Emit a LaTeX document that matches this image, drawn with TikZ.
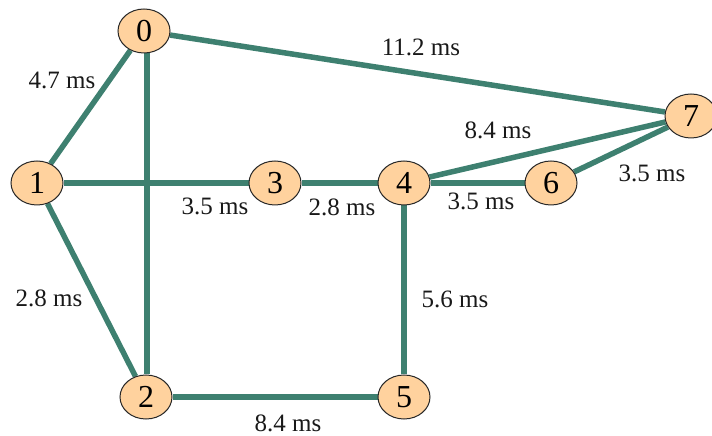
\documentclass[tikz,border=0pt]{standalone}
\usepackage{fontspec}
\setmainfont{Liberation Serif}
\usetikzlibrary{shapes.geometric,backgrounds}
\definecolor{nodefill}{RGB}{255,210,158}
\definecolor{edgecol}{RGB}{62,128,112}
\definecolor{rimcol}{RGB}{40,40,40}
\tikzset{
  vert/.style={ellipse,draw=rimcol,line width=1pt,fill=nodefill,minimum width=52pt,minimum height=44pt,inner sep=0pt,font=\fontsize{32}{32}\selectfont},
  link/.style={draw=edgecol,line width=5.5pt},
  lbl/.style={font=\fontsize{25}{25}\selectfont,inner sep=0pt,text=black!90}
}
\begin{document}
\begin{tikzpicture}[x=1pt,y=1pt]
\useasboundingbox (0,0) rectangle (712,436);
\node[vert] (n0) at (144,405) {0};
\node[vert] (n1) at (37,253) {1};
\node[vert] (n2) at (146,39) {2};
\node[vert] (n3) at (275,253) {3};
\node[vert] (n4) at (404,253) {4};
\node[vert] (n5) at (404,39) {5};
\node[vert] (n6) at (551,253) {6};
\node[vert] (n7) at (691,320) {7};
\begin{scope}[on background layer]
\draw[link] (n0) -- (n1);
\draw[link] (n0.south) ++(3,0) coordinate (a0) -- (a0 |- n2.north);
\draw[link] (n0) -- (n7);
\draw[link] (n1) -- (n3);
\draw[link] (n1) -- (n2);
\draw[link] (n3) -- (n4);
\draw[link] (n4) -- (n7);
\draw[link] (n4) -- (n6);
\draw[link] (n6) -- (n7);
\draw[link] (n4) -- (n5);
\draw[link] (n2) -- (n5);
\end{scope}
\node[lbl] (l07) at (421,389) {11.2 ms};
\node[lbl] (l01) at (62,356) {4.7 ms};
\node[lbl] (l47) at (498,306) {8.4 ms};
\node[lbl] (l67) at (652,263) {3.5 ms};
\node[lbl] (l13) at (215,230) {3.5 ms};
\node[lbl] (l34) at (342,229) {2.8 ms};
\node[lbl] (l46) at (481,235) {3.5 ms};
\node[lbl] (l12) at (49,138) {2.8 ms};
\node[lbl] (l45) at (455,137) {5.6 ms};
\node[lbl] (l25) at (288,13) {8.4 ms};
\end{tikzpicture}
\end{document}
